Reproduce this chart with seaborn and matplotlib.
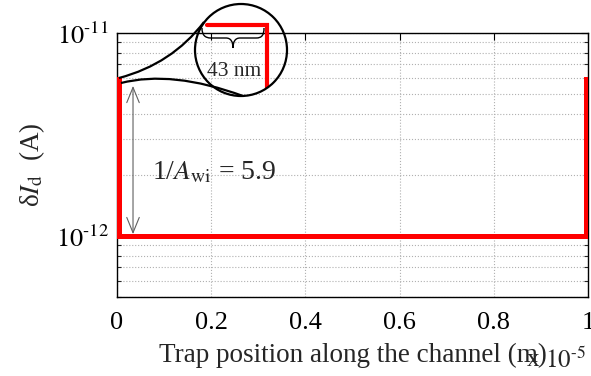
import numpy as np
import pandas as pd
import matplotlib
matplotlib.use("Agg")
import matplotlib.pyplot as plt
import seaborn as sns
from matplotlib.patches import Circle, PathPatch
from matplotlib.path import Path
from matplotlib.ticker import FixedLocator, LogLocator, NullFormatter, FuncFormatter

# ---- data -------------------------------------------------------------
channel_length = 1.0e-5          # m
edge_width = 43e-9               # m, width of the high-sensitivity edge
base_current = 1.0e-12           # A, delta I_d in the channel body
inv_a_wi = 5.9                   # edge enhancement factor

trap_x = [0.0, edge_width, edge_width,
          channel_length - edge_width, channel_length - edge_width, channel_length]
delta_id = [inv_a_wi * base_current, inv_a_wi * base_current, base_current,
            base_current, inv_a_wi * base_current, inv_a_wi * base_current]

x_ticks = [0.0, 0.2e-5, 0.4e-5, 0.6e-5, 0.8e-5, 1.0e-5]
x_tick_labels = ["0", "0.2", "0.4", "0.6", "0.8", "1"]
y_limits = (5.0e-13, 1.0e-11)

df = pd.DataFrame({"x": trap_x, "y": delta_id})

# ---- style ------------------------------------------------------------
sns.set_style("white")
plt.rcParams["font.family"] = ["Liberation Serif", "DejaVu Serif"]
plt.rcParams["mathtext.fontset"] = "stix"
plt.rcParams["xtick.direction"] = "in"
plt.rcParams["ytick.direction"] = "in"

W, H = 591, 376
fig = plt.figure(figsize=(W / 100, H / 100), dpi=100)
ax = fig.add_axes([117 / W, 1 - 297 / H, 471 / W, 264 / H])


def px(x, y):
    """pixel position (top-left origin) -> inches for dpi_scale_trans"""
    return (x / 100.0, (H - y) / 100.0)


sns.lineplot(data=df, x="x", y="y", sort=False, estimator=None, ax=ax,
             color="#ff0000", lw=3.6, solid_joinstyle="miter", zorder=3)

ax.set_yscale("log")
ax.set_ylim(*y_limits)
ax.set_xlim(x_ticks[0], x_ticks[-1])
ax.xaxis.set_major_locator(FixedLocator(x_ticks))
ax.set_xticklabels(x_tick_labels)
ax.yaxis.set_major_locator(LogLocator(base=10, numticks=10))
ax.yaxis.set_major_formatter(FuncFormatter(
    lambda v, pos: r"$10^{\text{-%d}}$" % round(-np.log10(v))))
ax.yaxis.set_minor_locator(LogLocator(base=10, subs=np.arange(2, 10), numticks=10))
ax.yaxis.set_minor_formatter(NullFormatter())

ax.tick_params(axis="both", which="major", labelsize=19, length=5, width=0.8,
               top=True, right=True, colors="black")
ax.tick_params(axis="x", which="major", pad=11)
ax.tick_params(axis="y", which="major", pad=6)
ax.tick_params(axis="y", which="minor", length=3, width=0.8, left=True, right=True)
ax.grid(True, which="major", axis="both", ls=":", lw=0.8, color="#b0b0b0")
ax.grid(True, which="minor", axis="y", ls=":", lw=0.8, color="#b0b0b0")
for s in ax.spines.values():
    s.set_color("black")
    s.set_linewidth(1.0)

ax.set_xlabel("Trap position along the channel (m)", fontsize=19.5, labelpad=6)
ax.set_ylabel(r"δ$I_{\rm d}$  (A)", fontsize=19.5, labelpad=6)

# MATLAB-style exponent for the x axis
fig.text(533 / W, 1 - 360 / H, "x", fontsize=18, ha="center", va="center")
fig.text(545 / W, 1 - 360 / H, r"$10^{\text{-5}}$", fontsize=18, ha="left", va="center")

# double arrow and enhancement label
ax.annotate("", xy=(0.034e-5, base_current * 1.02),
            xytext=(0.034e-5, inv_a_wi * base_current * 0.93),
            arrowprops=dict(arrowstyle="<->,head_length=1.1,head_width=0.45",
                            color="#606060", lw=0.8, shrinkA=0, shrinkB=0))
ax.text(0.074, 0.473, r"1/$A_{\rm wi}$ = %.1f" % inv_a_wi, transform=ax.transAxes,
        fontsize=20, ha="left", va="center")

# ---- magnifier showing the 43 nm edge --------------------------------
tr = fig.dpi_scale_trans
circ = Circle(px(241, 50), 0.46, transform=tr, fill=False, lw=1.6,
              edgecolor="black", zorder=6)
fig.add_artist(circ)

upper = Path([px(119, 78), px(172, 64), px(204, 22)],
             [Path.MOVETO, Path.CURVE3, Path.CURVE3])
lower = Path([px(121, 83), px(172, 70), px(243, 96)],
             [Path.MOVETO, Path.CURVE3, Path.CURVE3])
for p in (upper, lower):
    fig.add_artist(PathPatch(p, transform=tr, fill=False, lw=1.6,
                             edgecolor="black", zorder=6))

# zoomed view of the step, clipped to the lens
ax_in = fig.add_axes([195 / W, 1 - 98 / H, 95 / W, 96 / H])
ax_in.patch.set_alpha(0)
ax_in.axis("off")
sns.lineplot(data=df, x="x", y="y", sort=False, estimator=None, ax=ax_in,
             color="#ff0000", lw=3.0, solid_joinstyle="miter")
ax_in.set_yscale("log")
ax_in.set_xlim(-8.6e-9, 59.5e-9)
ax_in.set_ylim(3.0e-12, 7.3e-12)
for ln in ax_in.lines:
    ln.set_clip_path(circ)

# curly brace under the edge width
brace = Path([px(202, 28),
              px(202, 35), px(205, 38), px(211, 38),
              px(226, 38),
              px(231, 38), px(233, 42), px(233, 48),
              px(233, 42), px(235, 38), px(240, 38),
              px(256, 38),
              px(262, 38), px(264, 35), px(264, 28)],
             [Path.MOVETO,
              Path.CURVE4, Path.CURVE4, Path.CURVE4,
              Path.LINETO,
              Path.CURVE4, Path.CURVE4, Path.CURVE4,
              Path.CURVE4, Path.CURVE4, Path.CURVE4,
              Path.LINETO,
              Path.CURVE4, Path.CURVE4, Path.CURVE4])
fig.add_artist(PathPatch(brace, transform=tr, fill=False, lw=1.0,
                         edgecolor="black", zorder=6))
fig.text(234 / W, 1 - 71 / H, "%d nm" % round(edge_width * 1e9), fontsize=15.5,
         ha="center", va="center", zorder=6)

fig.savefig("out.png", dpi=100)
